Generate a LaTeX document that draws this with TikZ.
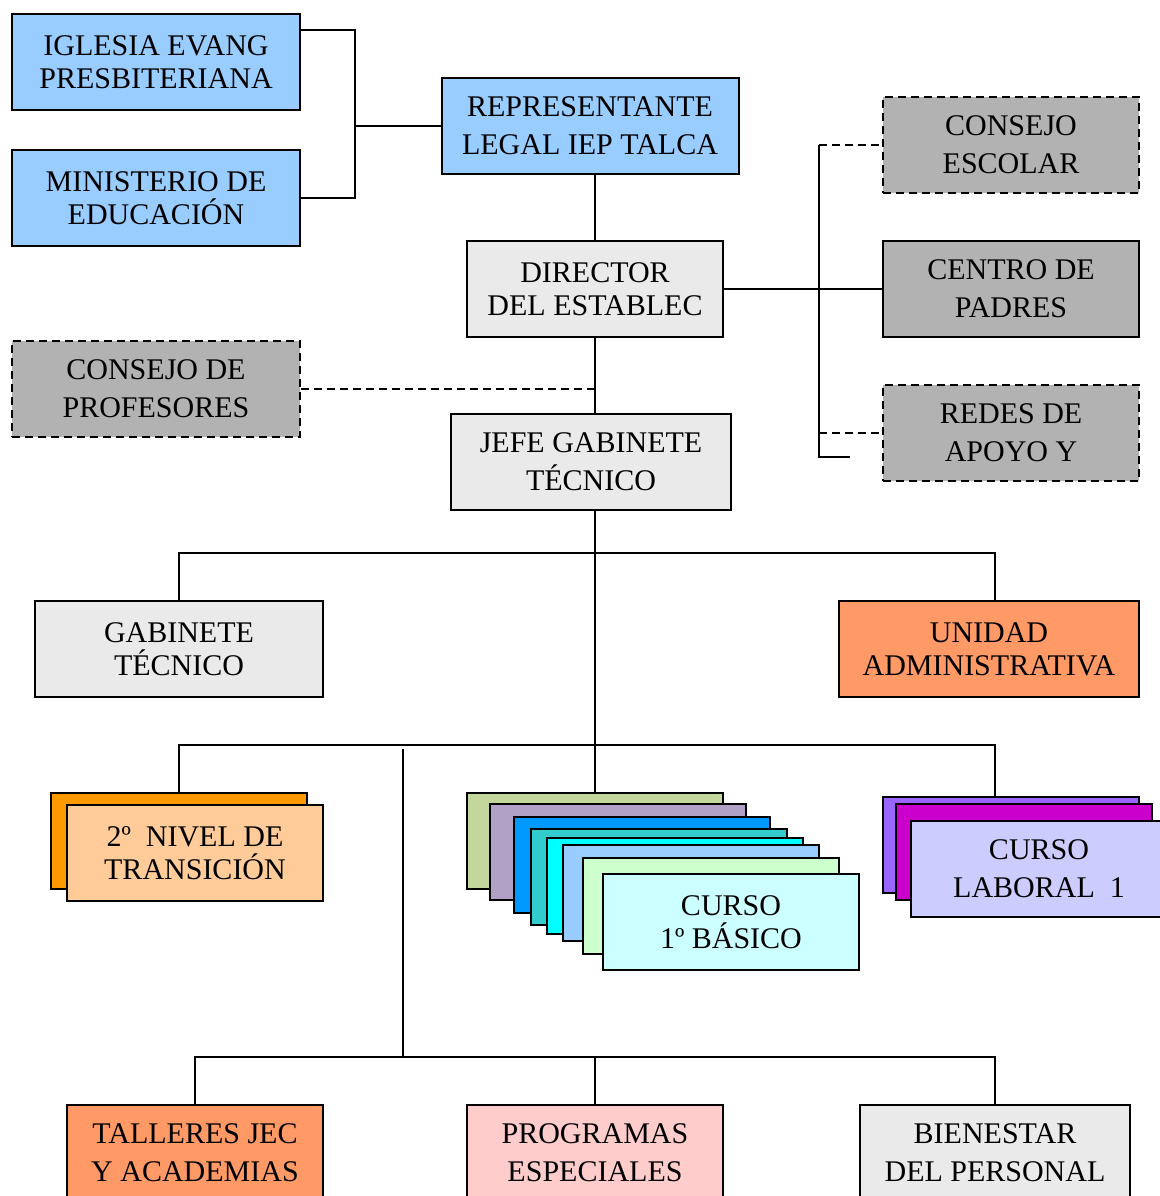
\documentclass[tikz,border=0pt]{standalone}
\usepackage{fontspec}
\setmainfont{Liberation Serif}
\usetikzlibrary{positioning}
\definecolor{azul}{HTML}{99CCFF}
\definecolor{gris}{HTML}{EAEAEA}
\definecolor{plomo}{HTML}{B2B2B2}
\definecolor{salmon}{HTML}{FF9966}
\definecolor{rosa}{HTML}{FFCCCC}
\definecolor{naranjo}{HTML}{FF9900}
\definecolor{durazno}{HTML}{FFCC99}
\definecolor{oliva}{HTML}{C3D69B}
\definecolor{lila}{HTML}{B2A1C7}
\definecolor{celeste}{HTML}{0099FF}
\definecolor{turquesa}{HTML}{33CCCC}
\definecolor{cian}{HTML}{00FFFF}
\definecolor{verdeclaro}{HTML}{CCFFCC}
\definecolor{cianclaro}{HTML}{CCFFFF}
\definecolor{violeta}{HTML}{9966FF}
\definecolor{magenta2}{HTML}{CC00CC}
\definecolor{lavanda}{HTML}{CCCCFF}
\tikzset{
  box/.style     = {draw, line width=2pt, minimum width=256pt, minimum height=96pt, align=center, font=\fontsize{30}{33}\selectfont},
  loose/.style   = {font=\fontsize{30}{38}\selectfont},
  dashbox/.style = {box, dash pattern=on 8pt off 5pt},
  link/.style    = {line width=1.6pt},
  dlink/.style   = {line width=1.6pt, dash pattern=on 8pt off 5pt},
}
\begin{document}
\begin{tikzpicture}[x=1pt,y=-1pt]
    \useasboundingbox[fill=white] (0,0) rectangle (1159,1196);
    % cabeza
    \node[box,fill=azul,minimum width=288pt] (iglesia) at (156,62) {IGLESIA EVANG\\PRESBITERIANA};
    \node[box,fill=azul,minimum width=288pt,below=38pt of iglesia] (ministerio) {MINISTERIO DE\\EDUCACIÓN};
    \node[box,loose,fill=azul,minimum width=297pt] (repr) at (590,126) {REPRESENTANTE\\LEGAL IEP TALCA};
    \node[box,fill=gris] (director) at (595,289) {DIRECTOR\\DEL ESTABLEC};
    \node[box,loose,fill=gris,minimum width=280pt] (jefe) at (591,462) {JEFE GABINETE\\TÉCNICO};
    \node[dashbox,loose,fill=plomo,minimum width=288pt] (cprof) at (156,389) {CONSEJO DE\\PROFESORES};
    % apoyo
    \node[dashbox,loose,fill=plomo] (cescolar) at (1011,145) {CONSEJO\\ESCOLAR};
    \node[box,loose,fill=plomo] (cpadres) at (1011,289) {CENTRO DE\\PADRES};
    \node[dashbox,loose,fill=plomo] (redes) at (1011,433) {REDES DE\\APOYO Y};
    \coordinate (l1) at (355,30);
    \coordinate (l2) at (355,198);
    \coordinate (r1) at (819,145);
    \coordinate (r2) at (819,457);
    \coordinate (cola) at (850,457);
    \draw[link] (iglesia.east |- l1) -- (l1) -- (l2) -- (ministerio.east |- l2);
    \draw[link] (l1 |- repr.west) -- (repr.west);
    \draw[link] (director.north) -- (director.north |- repr.south);
    \draw[link] (director.east) -- (cpadres.west);
    \draw[link] (r1) -- (r2) -- (cola);
    \draw[dlink] (r1) -- (cescolar.west);
    \draw[dlink] (r1 |- redes.west) -- (redes.west);
    \draw[dlink] (cprof.east) -- (cprof.east -| director.south);
    \draw[link] (director.south) -- (director.south |- jefe.north);
    % segundo nivel
    \node[box,fill=gris,minimum width=288pt] (gabinete) at (179,649) {GABINETE\\TÉCNICO};
    \node[box,fill=salmon,minimum width=300pt] (unidad) at (989,649) {UNIDAD\\ADMINISTRATIVA};
    \coordinate (a1) at (179,553);
    \coordinate (a2) at (995,553);
    \draw[link] (gabinete.north) -- (a1) -- (a2) -- (a2 |- unidad.north);
    % cursos
    \node[box,fill=naranjo] (nivelA) at (179,841) {};
    \node[box,fill=durazno] (nivelB) at (195,853) {2º~ NIVEL DE\\TRANSICIÓN};
    \node[box,fill=oliva] (basA) at (595,841) {};
    \node[box,fill=lila] (basB) at (618,852) {};
    \node[box,fill=celeste] (basC) at (642,865) {};
    \node[box,fill=turquesa] (basD) at (659,877) {};
    \node[box,fill=cian] (basE) at (675,886) {};
    \node[box,fill=azul] (basF) at (691,893) {};
    \node[box,fill=verdeclaro] (basG) at (711,906) {};
    \node[box,fill=cianclaro] (basH) at (731,922) {CURSO\\1º BÁSICO};
    \node[box,fill=violeta] (labA) at (1011,845) {};
    \node[box,fill=magenta2] (labB) at (1024,852) {};
    \node[box,loose,fill=lavanda] (labC) at (1039,869) {CURSO\\LABORAL~ 1};
    \coordinate (b1) at (179,745);
    \coordinate (b2) at (995,745);
    \draw[link] (nivelA.north) -- (b1) -- (b2) -- (b2 |- labA.north);
    \draw[link] (jefe.south -| basA.north) -- (basA.north);
    % tercer nivel
    \node[box,loose,fill=salmon] (talleres) at (195,1153) {TALLERES JEC\\Y ACADEMIAS};
    \node[box,loose,fill=rosa] (programas) at (595,1153) {PROGRAMAS\\ESPECIALES};
    \node[box,loose,fill=gris,minimum width=270pt] (bienestar) at (995,1153) {BIENESTAR\\DEL PERSONAL};
    \coordinate (c0) at (403,749);
    \coordinate (c1) at (195,1057);
    \coordinate (c2) at (995,1057);
    \draw[link] (c0) -- (c0 |- c1);
    \draw[link] (talleres.north) -- (c1) -- (c2) -- (bienestar.north);
    \draw[link] (programas.north) -- (programas.north |- c1);
  \end{tikzpicture}
\end{document}
